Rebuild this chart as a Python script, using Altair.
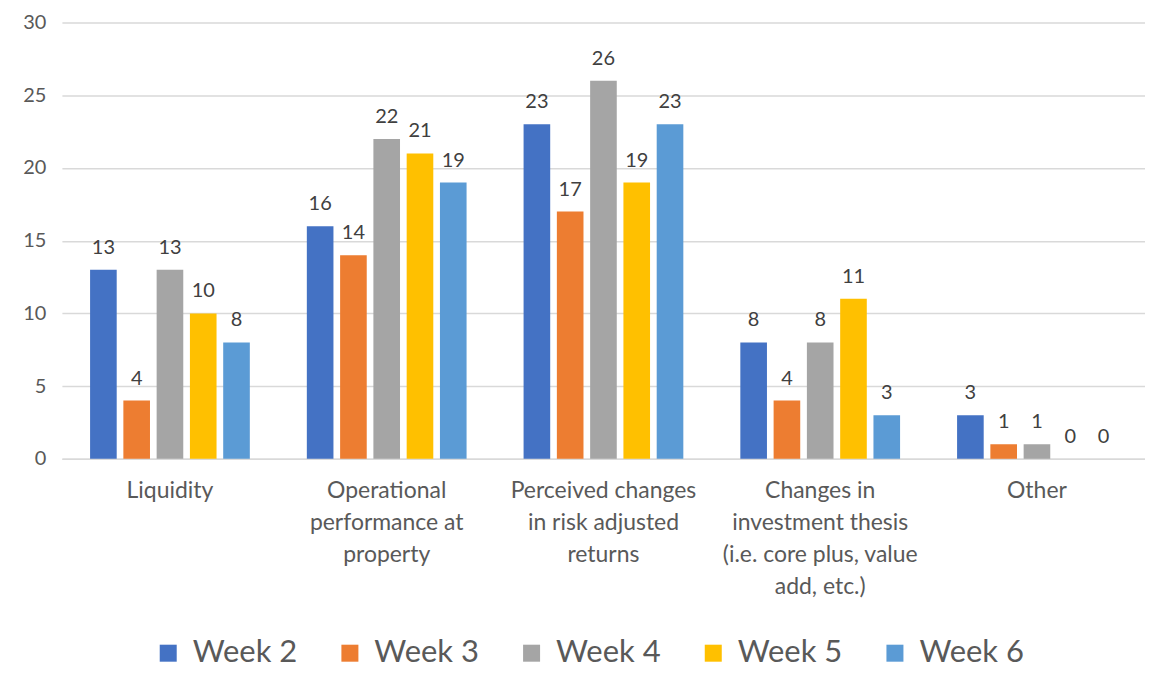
import altair as alt
import pandas as pd

categories = [
    "Liquidity",
    "Operational|performance at|property",
    "Perceived changes|in risk adjusted|returns",
    "Changes in|investment thesis|(i.e. core plus, value|add, etc.)",
    "Other",
]
weeks = ["Week 2", "Week 3", "Week 4", "Week 5", "Week 6"]
week2 = [13, 16, 23, 8, 3]
week3 = [4, 14, 17, 4, 1]
week4 = [13, 22, 26, 8, 1]
week5 = [10, 21, 19, 11, 0]
week6 = [8, 19, 23, 3, 0]
colors = ["#4472C4", "#ED7D31", "#A5A5A5", "#FFC000", "#5B9BD5"]
y_ticks = [0, 5, 10, 15, 20, 25, 30]

series = [week2, week3, week4, week5, week6]
rows = []
for w, vals in zip(weeks, series):
    for c, v in zip(categories, vals):
        rows.append({"category": c, "week": w, "value": v})
df = pd.DataFrame(rows)

FONT = "Lato"

base = alt.Chart(df).encode(
    x=alt.X(
        "category:N",
        sort=categories,
        scale=alt.Scale(paddingInner=0.263, paddingOuter=0.13),
        axis=alt.Axis(
            title=None,
            labelAngle=0,
            labelExpr="split(datum.label, '|')",
            labelFontSize=23,
            labelColor="#595959",
            labelFont=FONT,
            labelPadding=21,
            labelLineHeight=32,
            labelBaseline="top",
            labelLimit=400,
            ticks=False,
            grid=False,
            domainColor="#D9D9D9",
            domainWidth=1.5,
        ),
    ),
    xOffset=alt.XOffset("week:N", sort=weeks, scale=alt.Scale(paddingInner=0.2, paddingOuter=0)),
    y=alt.Y(
        "value:Q",
        scale=alt.Scale(domain=[0, 30], nice=False),
        axis=alt.Axis(
            title=None,
            values=y_ticks,
            labelFontSize=20,
            labelColor="#595959",
            labelFont=FONT,
            labelPadding=16,
            ticks=False,
            domain=False,
            gridColor="#D9D9D9",
            gridWidth=1.5,
        ),
    ),
)

bars = base.mark_bar().encode(
    color=alt.Color(
        "week:N",
        sort=weeks,
        scale=alt.Scale(domain=weeks, range=colors),
        legend=alt.Legend(
            title=None,
            orient="none",
            direction="horizontal",
            legendX=91,
            legendY=616,
            symbolType="square",
            symbolSize=290,
            symbolStrokeWidth=0,
            symbolOpacity=1,
            labelFontSize=31,
            labelFont=FONT,
            labelColor="#595959",
            columnPadding=37,
            labelOffset=9,
        ),
    )
)

labels = base.mark_text(
    baseline="bottom", dy=-12, fontSize=20, color="#404040", font=FONT
).encode(text="value:Q")

chart = (
    alt.layer(bars, labels)
    .properties(
        width=1085,
        height=437,
        background="white",
        autosize=alt.AutoSizeParams(type="none"),
        padding={"left": 54, "top": 14, "right": 0, "bottom": 211},
    )
    .configure_view(stroke=None)
)

chart.save("out.html", embed_options={"renderer": "svg", "actions": False})
